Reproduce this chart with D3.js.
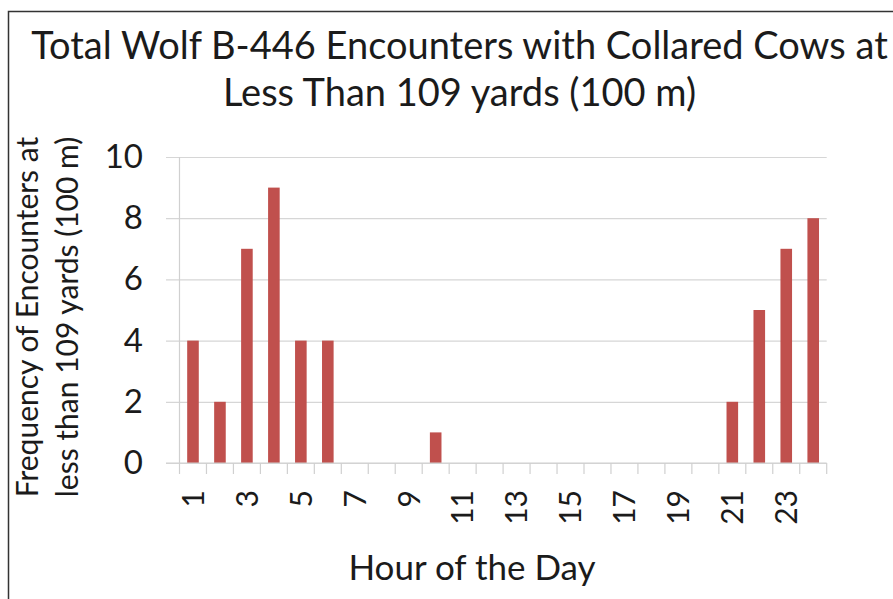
<!DOCTYPE html>
<html>
<head>
<meta charset="utf-8">
<script src="https://cdn.jsdelivr.net/npm/d3@7"></script>
<style>
  body { margin: 0; background: #fff; }
  svg { display: block; font-family: Lato, "Open Sans", sans-serif; }
</style>
</head>
<body>
<svg id="chart" width="893" height="599"></svg>
<script>
// data
var hours = [1, 2, 3, 4, 5, 6, 7, 8, 9, 10, 11, 12, 13, 14, 15, 16, 17, 18, 19, 20, 21, 22, 23, 24];
var encounters = [4, 2, 7, 9, 4, 4, 0, 0, 0, 1, 0, 0, 0, 0, 0, 0, 0, 0, 0, 0, 2, 5, 7, 8];
var xLabels = [1, 3, 5, 7, 9, 11, 13, 15, 17, 19, 21, 23];
var yTicks = [0, 2, 4, 6, 8, 10];
var titleLines = ['Total Wolf B-446 Encounters with Collared Cows at', 'Less Than 109 yards (100 m)'];
var yTitleLines = ['Frequency of Encounters at', 'less than 109 yards (100 m)'];
var xTitle = 'Hour of the Day';

var plot = { left: 179.5, right: 826.7, top: 157, bottom: 463 };
var textColor = '#1b1b1b';

var svg = d3.select('#chart');

// frame
svg.append('path')
	.attr('d', 'M8.5,599V11.5H893')
	.attr('fill', 'none')
	.attr('stroke', '#333')
	.attr('stroke-width', 1.5);

var xScale = d3.scaleBand()
	.domain(hours)
	.range([plot.left, plot.right])
	.paddingInner(0.57)
	.paddingOuter(0.285);

var yScale = d3.scaleLinear()
	.domain([0, 10])
	.range([plot.bottom, plot.top]);

// y grid + labels
var gridLeft = 166;
var yAxis = svg.append('g')
	.attr('class', 'y axis')
	.attr('transform', 'translate(' + gridLeft + ',0)')
	.call(d3.axisLeft(yScale)
		.tickValues(yTicks)
		.tickSize(-(plot.right - gridLeft))
		.tickPadding(23));
yAxis.select('.domain').remove();
yAxis.selectAll('line').attr('stroke', '#d6d6d6').attr('stroke-width', 1.2);
yAxis.selectAll('text')
	.attr('x', -23)
	.attr('fill', textColor)
	.style('font-size', '33px')
	.style('font-family', 'Lato, sans-serif');

// vertical axis line
svg.append('line')
	.attr('x1', plot.left).attr('x2', plot.left)
	.attr('y1', plot.top).attr('y2', plot.bottom)
	.attr('stroke', '#d0d0d0')
	.attr('stroke-width', 1.2);

// x tick marks at band boundaries
var step = xScale.step();
var bounds = hours.map(function(h) { return xScale(h) + xScale.bandwidth() / 2 - step / 2; });
bounds.push(xScale(hours[hours.length - 1]) + xScale.bandwidth() / 2 + step / 2);
svg.append('g').attr('class', 'x ticks')
	.selectAll('line')
	.data(bounds)
	.enter()
	.append('line')
	.attr('x1', function(d) { return d; })
	.attr('x2', function(d) { return d; })
	.attr('y1', plot.bottom)
	.attr('y2', plot.bottom + 11)
	.attr('stroke', '#d0d0d0')
	.attr('stroke-width', 1.2);

// bars
svg.append('g').attr('class', 'plot')
	.selectAll('rect')
	.data(hours)
	.enter()
	.append('rect')
	.attr('x', function(d) { return xScale(d); })
	.attr('width', xScale.bandwidth())
	.attr('y', function(d, i) { return yScale(encounters[i]); })
	.attr('height', function(d, i) { return plot.bottom - yScale(encounters[i]); })
	.attr('fill', '#c0504d');

// x axis line
svg.append('line')
	.attr('x1', gridLeft).attr('x2', plot.right)
	.attr('y1', plot.bottom).attr('y2', plot.bottom)
	.attr('stroke', '#d0d0d0')
	.attr('stroke-width', 1.2);

// x labels
var xAxis = svg.append('g')
	.attr('class', 'x axis')
	.attr('transform', 'translate(0,' + plot.bottom + ')')
	.call(d3.axisBottom(xScale).tickValues(xLabels).tickSize(0));
xAxis.select('.domain').remove();
xAxis.selectAll('text')
	.attr('transform', 'rotate(-90)')
	.attr('x', -27)
	.attr('y', 0)
	.attr('dy', '0.36em')
	.attr('text-anchor', 'end')
	.attr('fill', textColor)
	.style('font-size', '30px')
	.style('font-family', 'Lato, sans-serif');

// titles
svg.append('g').attr('class', 'title')
	.selectAll('text')
	.data(titleLines)
	.enter()
	.append('text')
	.attr('x', 459.5)
	.attr('y', function(d, i) { return 59 + i * 47; })
	.attr('text-anchor', 'middle')
	.attr('fill', textColor)
	.style('font-size', '38px')
	.text(function(d) { return d; });

svg.append('text')
	.attr('x', 472)
	.attr('y', 580)
	.attr('text-anchor', 'middle')
	.attr('fill', textColor)
	.style('font-size', '35px')
	.text(xTitle);

svg.append('g').attr('class', 'y title')
	.selectAll('text')
	.data(yTitleLines)
	.enter()
	.append('text')
	.attr('transform', function(d, i) { return 'translate(' + (38 + i * 40) + ',317) rotate(-90)'; })
	.attr('text-anchor', 'middle')
	.attr('fill', textColor)
	.style('font-size', '30px')
	.text(function(d) { return d; });
</script>
</body>
</html>
